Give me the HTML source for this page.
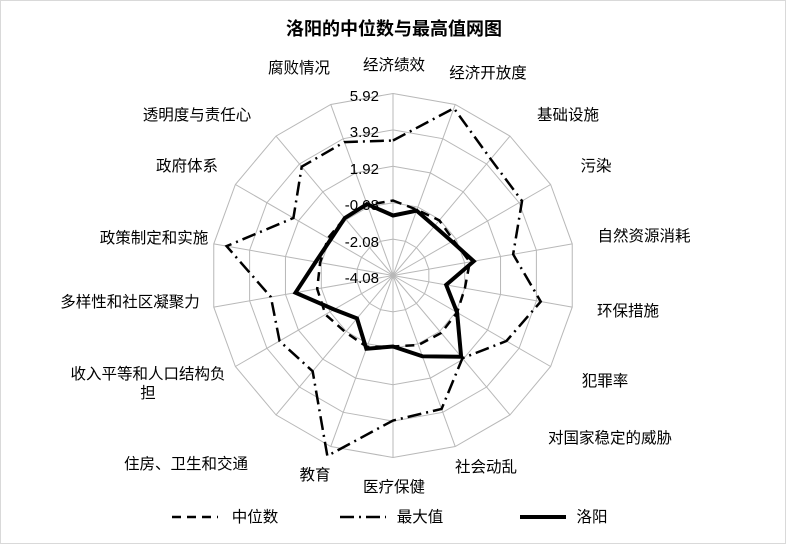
<!DOCTYPE html>
<html><head><meta charset="utf-8"><style>
html,body{margin:0;padding:0;background:#fff;}
svg{display:block;font-family:"Liberation Sans","Noto Sans CJK SC",sans-serif;}
</style></head><body>
<svg id="s" width="786" height="544" viewBox="0 0 786 544" xmlns="http://www.w3.org/2000/svg">
<rect x="0.5" y="0.5" width="785" height="543" fill="#fff" stroke="#d9d9d9"/>
<text x="394" y="35" text-anchor="middle" font-size="18" font-weight="bold" fill="#000">洛阳的中位数与最高值网图</text>
<g id="grid" stroke="#b8b8b8" stroke-width="1" fill="none"></g>
<g font-size="15" fill="#000" text-anchor="end">
<text x="379" y="101">5.92</text>
<text x="379" y="137">3.92</text>
<text x="379" y="174">1.92</text>
<text x="379" y="210">-0.08</text>
<text x="379" y="247">-2.08</text>
<text x="379" y="283">-4.08</text>
</g>
<g id="data" fill="none" stroke="#000"></g>
<g font-size="15.5" fill="#000" text-anchor="middle">
<text x="394" y="70">经济绩效</text>
<text x="488" y="78">经济开放度</text>
<text x="568" y="120">基础设施</text>
<text x="596" y="171">污染</text>
<text x="644" y="241">自然资源消耗</text>
<text x="628" y="316">环保措施</text>
<text x="605" y="386">犯罪率</text>
<text x="610" y="443">对国家稳定的威胁</text>
<text x="486" y="472">社会动乱</text>
<text x="394" y="492">医疗保健</text>
<text x="315" y="480">教育</text>
<text x="186" y="469">住房、卫生和交通</text>
<text x="148" y="379">收入平等和人口结构负</text>
<text x="148" y="398">担</text>
<text x="130" y="307">多样性和社区凝聚力</text>
<text x="154" y="243">政策制定和实施</text>
<text x="187" y="171">政府体系</text>
<text x="197" y="120">透明度与责任心</text>
<text x="299" y="73">腐败情况</text>
<text x="255" y="522">中位数</text>
<text x="420" y="522">最大值</text>
<text x="592" y="522">洛阳</text>
</g>
<g stroke="#000" fill="none">
<line x1="172" y1="517" x2="218" y2="517" stroke-width="2.5" stroke-dasharray="9,6"/>
<line x1="340" y1="517" x2="386" y2="517" stroke-width="2.5" stroke-dasharray="14,5,2,5"/>
<line x1="520" y1="517" x2="566" y2="517" stroke-width="4"/>
</g>
</svg>
<script>
(function(){
var cx=393,cy=275.5,R=182,N=18,ns="http://www.w3.org/2000/svg";
function pt(i,r){var a=i*2*Math.PI/N;return [cx+r*Math.sin(a),cy-r*Math.cos(a)];}
var g=document.getElementById('grid');
for(var k=1;k<=5;k++){var p=[];for(var i=0;i<N;i++)p.push(pt(i,R*k/5).join(','));
var e=document.createElementNS(ns,'polygon');e.setAttribute('points',p.join(' '));g.appendChild(e);}
for(var i=0;i<N;i++){var q=pt(i,R);var l=document.createElementNS(ns,'line');
l.setAttribute('x1',cx);l.setAttribute('y1',cy);l.setAttribute('x2',q[0]);l.setAttribute('y2',q[1]);g.appendChild(l);}
var med=[75,70,72,70,78,73,74,75,74,71,76,74,78,77,74,75,75,75];
var mx=[135,178,152,149,122,150,131,108,142,145,192,125,131,124,169,115,142,142];
var ly=[60,69,64.5,68,82,54,74,106,86,71,78,56,68,99,78.5,72,75,76];
var d=document.getElementById('data');
function poly(v,w,da){var p=[];for(var i=0;i<N;i++)p.push(pt(i,v[i]).join(','));
var e=document.createElementNS(ns,'polygon');e.setAttribute('points',p.join(' '));
e.setAttribute('stroke-width',w);if(da)e.setAttribute('stroke-dasharray',da);
e.setAttribute('stroke-linejoin','miter');d.appendChild(e);}
poly(med,2.5,'9,6');poly(mx,2.5,'14,5,2,5');poly(ly,4,null);
})();
</script>
</body></html>
